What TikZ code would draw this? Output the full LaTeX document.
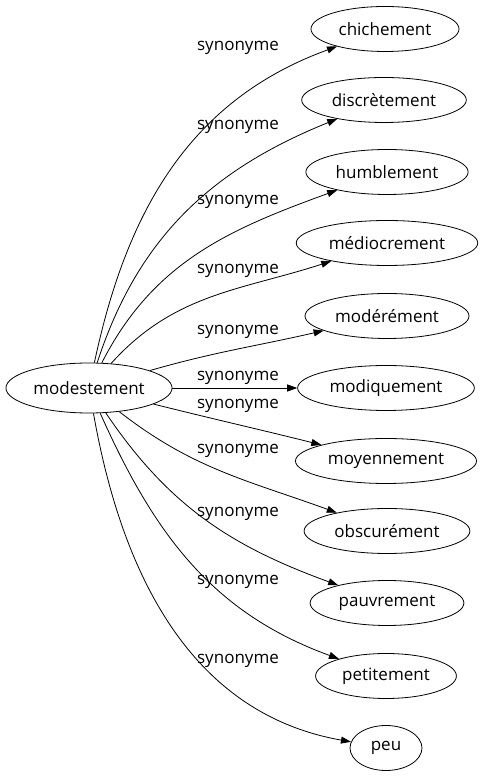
\documentclass[tikz,border=0pt]{standalone}
\usepackage{fontspec}
\setmainfont{Open Sans}
\usetikzlibrary{shapes.geometric,arrows.meta}
\tikzset{
  word/.style={draw,ellipse,line width=0.8pt,inner xsep=6pt,minimum height=45pt,minimum width=72pt,font=\fontsize{17}{20}\selectfont},
  rel/.style={font=\fontsize{17}{20}\selectfont},
  syn/.style={line width=0.8pt,-{Triangle[length=10pt,width=7pt]}}
}
\begin{document}
\begin{tikzpicture}[x=1pt,y=1pt]
    \useasboundingbox (0,0) rectangle (481,779);
    % central word
    \node[word,inner xsep=3pt,minimum height=50pt] (modestement) at (89,391) {modestement};
    % synonyms
    \node[word] (chichement) at (385,750) {chichement};
    \node[word] (discretement) at (384,679) {discrètement};
    \node[word] (humblement) at (387,607) {humblement};
    \node[word] (mediocrement) at (387,536) {médiocrement};
    \node[word] (moderement) at (387,463) {modérément};
    \node[word] (modiquement) at (386,391) {modiquement};
    \node[word] (moyennement) at (386,318) {moyennement};
    \node[word] (obscurement) at (387,248) {obscurément};
    \node[word] (pauvrement) at (387,176) {pauvrement};
    \node[word] (petitement) at (386,103) {petitement};
    \node[word] (peu) at (386,31) {peu};
    % edges
    \draw[syn] (modestement) to[out=78,in=200] (chichement);
    \draw[syn] (modestement) to[out=72,in=202] (discretement);
    \draw[syn] (modestement) to[out=63,in=200] (humblement);
    \draw[syn] (modestement) to[out=48,in=198] (mediocrement);
    \draw[syn] (modestement) to[out=16,in=193] (moderement);
    \draw[syn] (modestement) -- (modiquement);
    \draw[syn] (modestement) to[out=-14,in=166] (moyennement);
    \draw[syn] (modestement) to[out=-38,in=160] (obscurement);
    \draw[syn] (modestement) to[out=-56,in=160] (pauvrement);
    \draw[syn] (modestement) to[out=-66,in=160] (petitement);
    \draw[syn] (modestement) to[out=-80,in=170] (peu);
    % labels
    \node[rel] (l1) at (238,731) {synonyme};
    \node[rel] (l2) at (238,652) {synonyme};
    \node[rel] (l3) at (238,577) {synonyme};
    \node[rel] (l4) at (238,508) {synonyme};
    \node[rel] (l5) at (238,447) {synonyme};
    \node[rel] (l6) at (238,401) {synonyme};
    \node[rel] (l7) at (238,373) {synonyme};
    \node[rel] (l8) at (238,328) {synonyme};
    \node[rel] (l9) at (238,265) {synonyme};
    \node[rel] (l10) at (238,197) {synonyme};
    \node[rel] (l11) at (238,118) {synonyme};
\end{tikzpicture}
\end{document}
